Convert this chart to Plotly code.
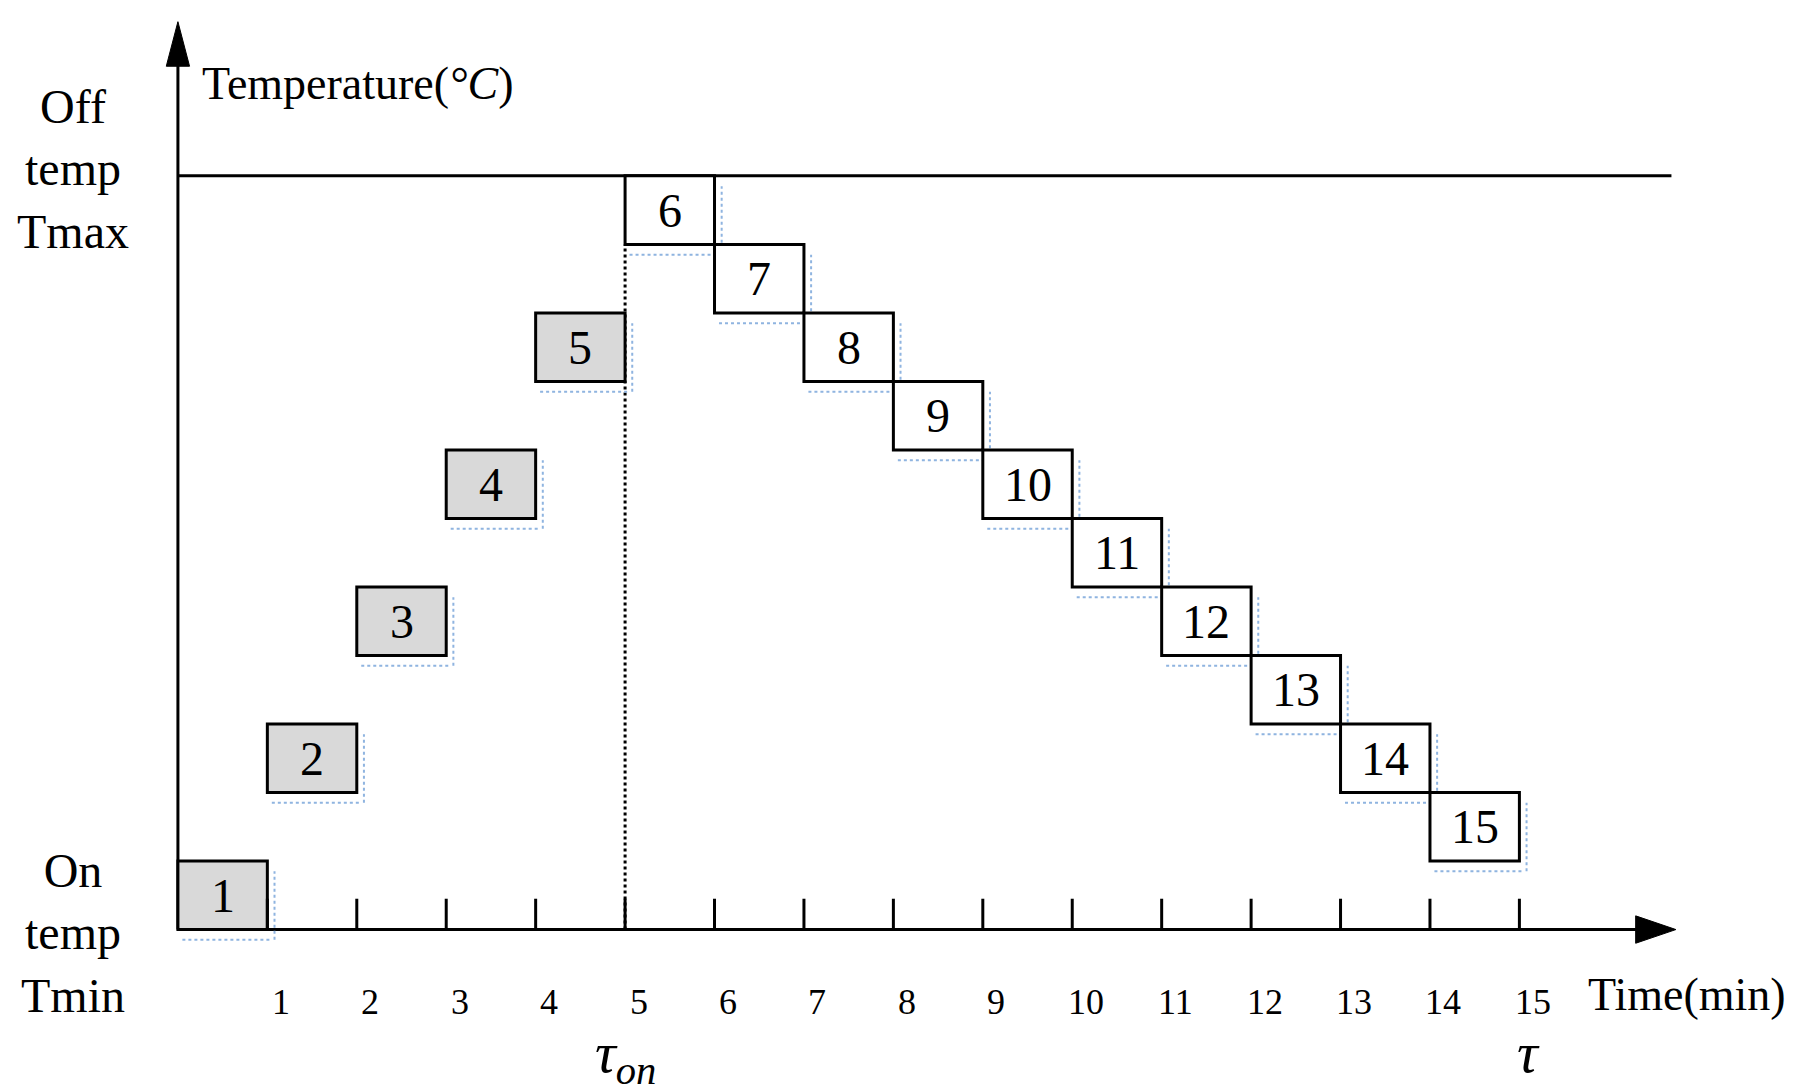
import plotly.graph_objects as go

box_ids = list(range(1, 16))
box_x0 = [0, 1, 2, 3, 4, 5, 6, 7, 8, 9, 10, 11, 12, 13, 14]
box_y0 = [0, 2, 4, 6, 8, 10, 9, 8, 7, 6, 5, 4, 3, 2, 1]
box_fill = ["#d9d9d9"] * 5 + ["white"] * 10
tick_vals = list(range(1, 16))
tick_labels = [str(v) for v in tick_vals]
t_max = 11

FONT = "Liberation Serif"
fig = go.Figure()
fig.add_trace(go.Scatter(x=[0], y=[0], mode="markers", marker=dict(opacity=0), showlegend=False, hoverinfo="skip"))

shapes = []
ann = []
# axes
shapes.append(dict(type="line", x0=0, x1=16.5, y0=0, y1=0, line=dict(color="black", width=3)))
shapes.append(dict(type="line", x0=0, x1=0, y0=0, y1=12.9, line=dict(color="black", width=3)))
shapes.append(dict(type="path", path="M 16.3 0.2 L 16.75 0 L 16.3 -0.2 Z", fillcolor="black", line=dict(color="black", width=1)))
shapes.append(dict(type="path", path="M -0.13 12.6 L 0 13.25 L 0.13 12.6 Z", fillcolor="black", line=dict(color="black", width=1)))
# Tmax line
shapes.append(dict(type="line", x0=0, x1=16.7, y0=t_max, y1=t_max, line=dict(color="black", width=3)))
# dashed line at tau_on
shapes.append(dict(type="line", x0=5, x1=5, y0=0, y1=10, line=dict(color="black", width=3, dash="dot")))
for i, x0, y0, fc in zip(box_ids, box_x0, box_y0, box_fill):
    shapes.append(dict(type="line", x0=x0 + 0.05, x1=x0 + 1.05, y0=y0 - 0.15, y1=y0 - 0.15,
                       line=dict(color="#8fb4e0", width=2, dash="dot")))
    shapes.append(dict(type="line", x0=x0 + 1.08, x1=x0 + 1.08, y0=y0 - 0.15, y1=y0 + 0.85,
                       line=dict(color="#8fb4e0", width=2, dash="dot")))
    shapes.append(dict(type="rect", x0=x0, x1=x0 + 1, y0=y0, y1=y0 + 1, fillcolor=fc,
                       line=dict(color="black", width=3)))
    ann.append(dict(x=x0 + 0.5, y=y0 + 0.5, text=str(i), showarrow=False,
                    font=dict(family=FONT, size=48, color="black")))
for v, lab in zip(tick_vals, tick_labels):
    shapes.append(dict(type="line", x0=v, x1=v, y0=0, y1=0.45, line=dict(color="black", width=3)))
    ann.append(dict(x=v + 0.15, y=-1.05, text=lab, showarrow=False,
                    font=dict(family=FONT, size=36, color="black")))
ann.append(dict(x=0.25, y=12.35, text="Temperature(<i>°C</i>)", xanchor="left", showarrow=False,
                font=dict(family=FONT, size=46, color="black")))
ann.append(dict(x=-1.17, y=11.1, text="Off<br>temp<br>Tmax", showarrow=False,
                font=dict(family=FONT, size=48, color="black")))
ann.append(dict(x=-1.17, y=-0.05, text="On<br>temp<br>Tmin", showarrow=False,
                font=dict(family=FONT, size=48, color="black")))
ann.append(dict(x=15.75, y=-0.95, text="Time(min)", xanchor="left", showarrow=False,
                font=dict(family=FONT, size=46, color="black")))
ann.append(dict(x=5.0, y=-1.85, text="<i>τ</i><sub><i>on</i></sub>", showarrow=False,
                font=dict(family=FONT, size=58, color="black")))
ann.append(dict(x=15.1, y=-1.8, text="<i>τ</i>", showarrow=False,
                font=dict(family=FONT, size=58, color="black")))

fig.update_layout(width=1811, height=1086, margin=dict(l=0, r=0, t=0, b=0),
                  plot_bgcolor="white", paper_bgcolor="white", shapes=shapes, annotations=ann,
                  xaxis=dict(range=[-1.9, 18.35], visible=False, fixedrange=True),
                  yaxis=dict(range=[-2.4, 13.45], visible=False, fixedrange=True),
                  showlegend=False)
fig.write_html("out.html")
